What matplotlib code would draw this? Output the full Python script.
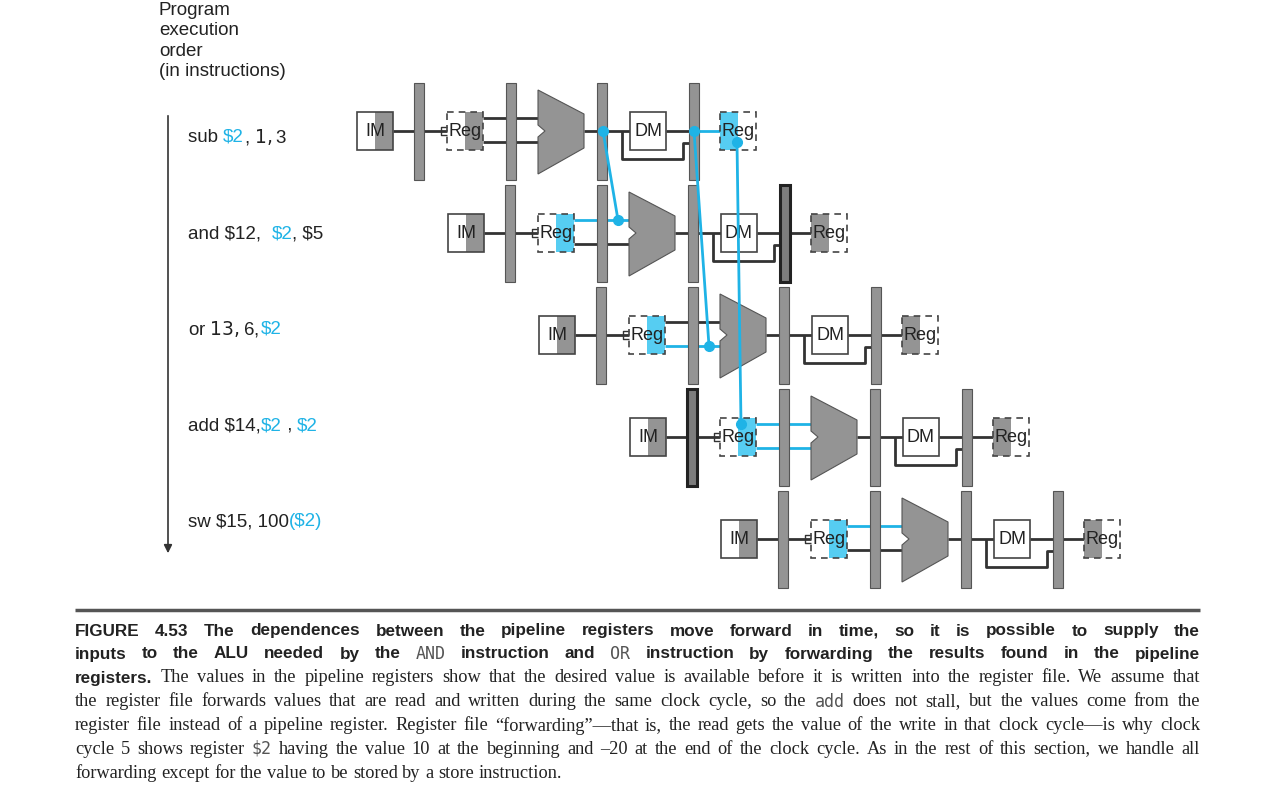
import matplotlib.pyplot as plt
from matplotlib.patches import Rectangle, Polygon

# instruktioner, med blå delar markerade
instructions = [
    [("sub ", 0), ("$2", 1), (", $1, $3", 0)],
    [("and $12,  ", 0), ("$2", 1), (", $5", 0)],
    [("or $13, $6, ", 0), ("$2", 1)],
    [("add $14,", 0), ("$2", 1), (" , ", 0), ("$2", 1)],
    [("sw $15, 100", 0), ("($2)", 1)],
]
# vilken del av reg-rutan som är blå: (rad, steg)
blue_regs = [(0, "WB"), (1, "ID"), (2, "ID"), (3, "ID"), (4, "ID")]
# blå ledningar in i ALU: (rad, 'top'/'bot')
blue_alu_inputs = [(1, "top"), (2, "bot"), (3, "top"), (3, "bot"), (4, "top")]
dark_bars = [(1, 4), (3, 1)]

GRAY = "#949494"
EDGE = "#555555"
BLUE = "#1fb3e6"
LBLUE = "#56cdf2"

fig = plt.figure(figsize=(12.8, 8), dpi=100)
ax = fig.add_axes([0, 0, 1, 1])
ax.set_xlim(0, 1280)
ax.set_ylim(800, 0)
ax.axis("off")
r = fig.canvas.get_renderer()

def width_of(s, **kw):
    t = ax.text(0, 0, s, **kw)
    bb = t.get_window_extent(renderer=r)
    t.remove()
    return bb.width

def line(xs, ys, c="#333333", lw=2, z=2):
    ax.plot(xs, ys, color=c, lw=lw, zorder=z, solid_capstyle="butt")

def bar(x, yc, dark=False):
    ax.add_patch(Rectangle((x, yc - 48), 10, 97, fc=GRAY if not dark else "#7d7d7d",
                           ec="#222" if dark else EDGE, lw=2.2 if dark else 0.8, zorder=4))

def box(x, yc, label, shade, dashed, shadecol=GRAY):
    if shade == "right":
        ax.add_patch(Rectangle((x + 18, yc - 19), 18, 38, fc=shadecol, ec="none", zorder=3))
    elif shade == "left":
        ax.add_patch(Rectangle((x, yc - 19), 18, 38, fc=shadecol, ec="none", zorder=3))
    ax.add_patch(Rectangle((x, yc - 19), 36, 38, fc="none", ec="#444", lw=1.2,
                           ls=(0, (4, 3)) if dashed else "-", zorder=5))
    if not dashed:
        ax.add_patch(Rectangle((x, yc - 19), 36, 38, fc="white", ec="none", zorder=2))
    ax.text(x + 18, yc, label, ha="center", va="center", fontsize=13,
            family="Liberation Sans", color="#222", zorder=6)

for i in range(len(instructions)):
    x0 = 357 + 91 * i
    yc = 131 + 102 * i
    wb_blue = (i, "WB") in blue_regs
    id_blue = (i, "ID") in blue_regs
    # IF
    box(x0, yc, "IM", "right", False)
    line([x0 + 36, x0 + 90], [yc, yc])
    bar(x0 + 57, yc, (i, 1) in dark_bars)
    line([x0 + 90, x0 + 84, x0 + 84, x0 + 90], [yc - 4, yc - 4, yc + 4, yc + 4], lw=1)
    # ID
    box(x0 + 90, yc, "Reg", "right", True, LBLUE if id_blue else GRAY)
    for key, dy in (("top", -13), ("bot", 11)):
        c = BLUE if (i, key) in blue_alu_inputs else "#333333"
        line([x0 + 126, x0 + 183], [yc + dy, yc + dy], c=c)
    bar(x0 + 149, yc, (i, 2) in dark_bars)
    # EX
    ax.add_patch(Polygon([(x0 + 181, yc - 41), (x0 + 227, yc - 17), (x0 + 227, yc + 17),
                          (x0 + 181, yc + 43), (x0 + 181, yc + 6), (x0 + 188, yc),
                          (x0 + 181, yc - 6)], closed=True, fc=GRAY, ec=EDGE, lw=0.8, zorder=4))
    line([x0 + 227, x0 + 273], [yc, yc])
    bar(x0 + 240, yc, (i, 3) in dark_bars)
    # MEM
    box(x0 + 273, yc, "DM", "none", False)
    line([x0 + 265, x0 + 265, x0 + 326, x0 + 326, x0 + 334],
         [yc, yc + 28, yc + 28, yc + 12, yc + 12])
    line([x0 + 309, x0 + 336], [yc, yc])
    bar(x0 + 332, yc, (i, 4) in dark_bars)
    # WB
    line([x0 + 342, x0 + 363], [yc, yc], c=BLUE if wb_blue else "#333333")
    box(x0 + 363, yc, "Reg", "left", True, LBLUE if wb_blue else GRAY)

# forwarding-linjer
def fwd(p, q):
    ax.plot([p[0], q[0]], [p[1], q[1]], color=BLUE, lw=2, zorder=7)
    for pt in (p, q):
        ax.plot(*pt, "o", color=BLUE, ms=7, zorder=8)

fwd((603, 131), (618, 220))
fwd((694, 131), (709, 346))
fwd((737, 142), (741, 424))

# instruktionstexter
for i, runs in enumerate(instructions):
    x = 188
    y = 137 + 96 * i + (i > 2) * 0
    y = [137, 234, 329, 426, 522][i]
    for s, b in runs:
        ax.text(x, y, s, fontsize=13.5, family="Liberation Sans", va="center",
                color=BLUE if b else "#222")
        x += width_of(s, fontsize=13.5, family="Liberation Sans")

ax.text(159, 2, "Program\nexecution\norder\n(in instructions)", fontsize=13.5,
        family="Liberation Sans", va="top", linespacing=1.25, color="#222")
ax.annotate("", xy=(168, 556), xytext=(168, 113),
            arrowprops=dict(arrowstyle="-|>", color="#333", lw=1.2, mutation_scale=12))

# figurtext
line([75, 1200], [610, 610], c="#555", lw=2.5)
B = dict(fontsize=12.3, family="Liberation Sans", fontweight="bold", color="#222")
S = dict(fontsize=13.2, family="Liberation Serif", color="#222")
M = dict(fontsize=12, family="DejaVu Sans Mono", color="#555")
caption = [
    [("FIGURE 4.53   The dependences between the pipeline registers move forward in time, so it is possible to supply the", B)],
    [("inputs to the ALU needed by the", B), ("AND", M), ("instruction and", B), ("OR", M),
     ("instruction by forwarding the results found in the pipeline", B)],
    [("registers.", B), ("The values in the pipeline registers show that the desired value is available before it is written into the register file. We assume that", S)],
    [("the register file forwards values that are read and written during the same clock cycle, so the", S), ("add", M),
     ("does not stall, but the values come from the", S)],
    [("register file instead of a pipeline register. Register file \u201cforwarding\u201d\u2014that is, the read gets the value of the write in that clock cycle\u2014is why clock", S)],
    [("cycle 5 shows register", S), ("$2", M), ("having the value 10 at the beginning and \u201320 at the end of the clock cycle. As in the rest of this section, we handle all", S)],
    [("forwarding except for the value to be stored by a store instruction.", S)],
]
ys = [631, 654, 678, 702, 726, 749, 773]
for li, runs in enumerate(caption):
    words = []
    for s, st in runs:
        for w in s.split(" "):
            if w:
                words.append((w, st))
    widths = [width_of(w, **st) for w, st in words]
    if li < len(caption) - 1:
        gap = (1200 - 75 - sum(widths)) / (len(words) - 1)
    else:
        gap = width_of("a b", **S) - width_of("ab", **S)
    x = 75
    for (w, st), wd in zip(words, widths):
        ax.text(x, ys[li], w, va="center", **st)
        x += wd + gap

fig.savefig("out.png", dpi=100)
